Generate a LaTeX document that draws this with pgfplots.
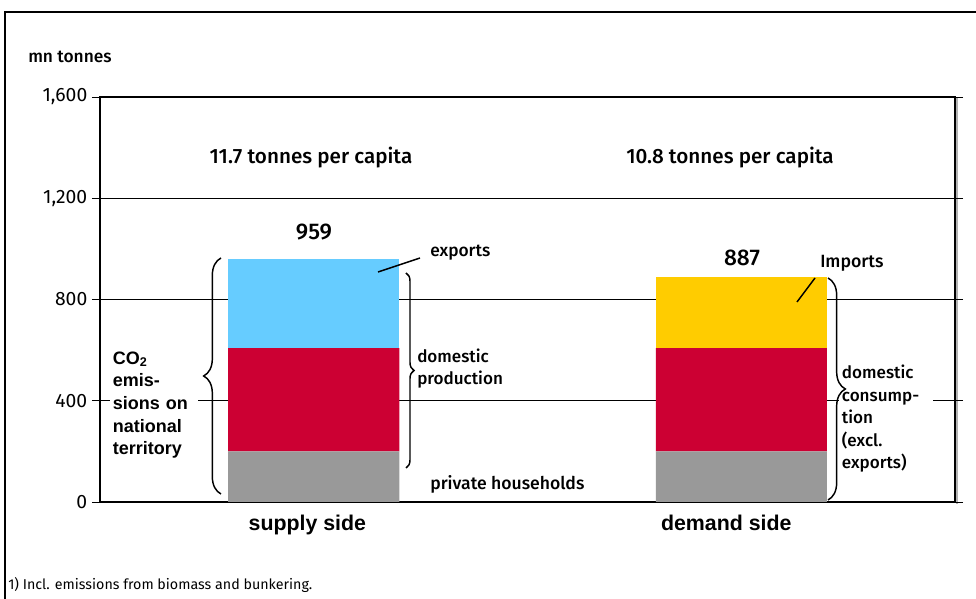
\documentclass[border=0pt]{standalone}
\usepackage{fontspec}
\setmainfont{Fira Sans}
\newfontfamily\med{Fira Sans Medium}
\newfontfamily\arial{Liberation Sans}
\usepackage{pgfplots}
\pgfplotsset{compat=1.18}
\usetikzlibrary{decorations.pathreplacing}
\definecolor{cgray}{HTML}{999999}
\definecolor{cred}{HTML}{CC0033}
\definecolor{cblue}{HTML}{66CCFF}
\definecolor{cyellow}{HTML}{FFCC00}
\begin{document}
\begin{tikzpicture}[x=0.75pt,y=0.75pt]
\useasboundingbox (0,0) rectangle (976,599);
\draw[line width=1.2pt] (5,-10) -- (5,587) -- (990,587);
\draw[gray!60,line width=1.5pt] (957,95) -- (957,502);
\begin{axis}[at={(75pt,72.75pt)}, anchor=south west, scale only axis,
  width=641.25pt, height=303.75pt,
  xmin=0, xmax=4, ymin=0, ymax=1600,
  ybar stacked, bar width=0.8,
  ytick={0,400,800,1200,1600},
  /pgf/number format/assume math mode=true,
  /pgf/number format/1000 sep={,},
  yticklabel style={font=\fontsize{14.5}{16}\selectfont},
  tick align=outside, major tick length=6pt,
  ytick style={black, line width=0.6pt},
  xtick={0.97,2.93}, xticklabels={supply side, demand side},
  xtick style={draw=none},
  xticklabel style={font=\arial\bfseries\fontsize{16}{18}\selectfont},
  ymajorgrids, major grid style={black, line width=0.5pt},
  axis line style={black, line width=1pt},
]
\addplot[fill=cgray, draw=none] coordinates {(1,200) (3,200)};
\addplot[fill=cred, draw=none] coordinates {(1,408) (3,408)};
\addplot[fill=cblue, draw=none] coordinates {(1,351) (3,0)};
\addplot[fill=cyellow, draw=none] coordinates {(1,0) (3,279)};
\end{axis}
% annotations
\node[anchor=west, inner sep=0pt, font=\med\fontsize{13}{15}\selectfont] at (28,542) {mn tonnes};
\node[font=\med\fontsize{15.5}{17}\selectfont] at (311,441) {11.7 tonnes per capita};
\node[font=\med\fontsize{15.5}{17}\selectfont] at (730,441) {10.8 tonnes per capita};
\node[font=\med\fontsize{17}{19}\selectfont] at (314,367) {959};
\node[font=\med\fontsize{17}{19}\selectfont] at (742,341) {887};
\node[anchor=west, inner sep=0pt, font=\med\fontsize{13}{15}\selectfont] at (430,346) {exports};
\node[anchor=west, inner sep=0pt, font=\med\fontsize{13.3}{15}\selectfont] at (820,336) {Imports};
\draw[line width=1.1pt] (378,327) -- (420,341);
\draw[line width=1.1pt] (797,297) -- (815,321);
\node[anchor=west, inner sep=0pt, align=left, font=\med\fontsize{12.8}{17}\selectfont] at (417,230.5) {domestic\\production};
\node[anchor=west, inner sep=0pt, font=\med\fontsize{13.2}{15}\selectfont] at (430,115) {private households};
\node[anchor=west, align=left, fill=white, inner sep=2pt, text width=66pt, font=\med\fontsize{12.8}{16.9}\selectfont] at (839,180) {domestic\\consump-\\tion\\(excl.\\exports)};
\node[anchor=west, align=left, fill=white, inner sep=2pt, text width=62pt, font=\arial\bfseries\fontsize{13.5}{17}\selectfont] at (110,194) {CO\textsubscript{2}\\emis-\\sions on\\national\\territory};
% braces
\draw[line width=1.1pt, decorate, decoration={brace, amplitude=13pt}] (221,105) -- (221,341);
\draw[line width=1.1pt, decorate, decoration={brace, amplitude=6pt}] (406,326) -- (406,131);
\draw[line width=1.1pt, decorate, decoration={brace, amplitude=13pt}] (828,321) -- (828,99);
% footnote
\node[anchor=west, inner sep=0pt, font=\fontsize{10.7}{12}\selectfont] at (8,14) {1) Incl. emissions from biomass and bunkering.};
\end{tikzpicture}
\end{document}
